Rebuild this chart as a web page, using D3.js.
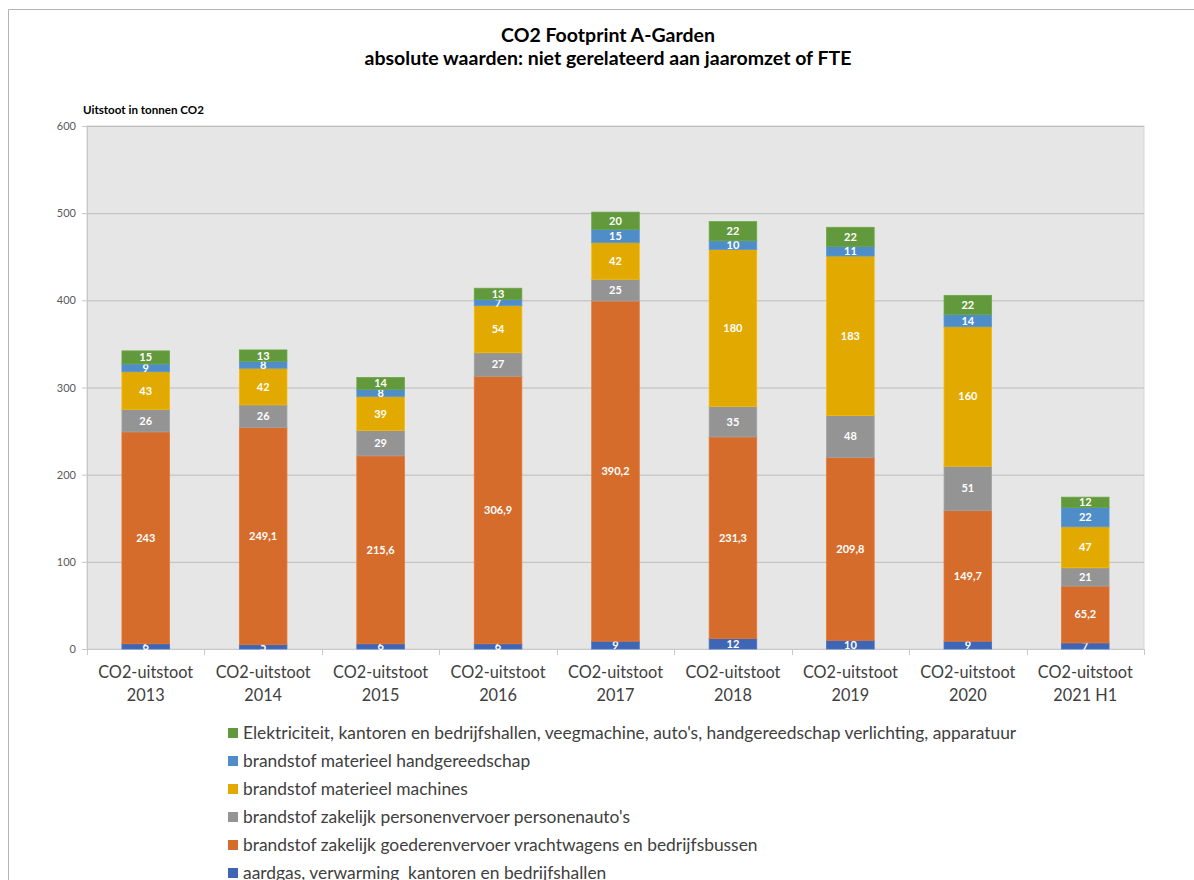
<!DOCTYPE html>
<html><head><meta charset="utf-8">
<script src="https://cdn.jsdelivr.net/npm/d3@7"></script>
<style>body{margin:0;background:#fff;} svg{display:block;font-family:Lato,"Open Sans",sans-serif;}</style>
</head><body>
<svg id="c" width="1194" height="880"></svg>
<script>
const categories = ["2013","2014","2015","2016","2017","2018","2019","2020","2021 H1"];
const seriesNames = [
  "aardgas, verwarming  kantoren en bedrijfshallen",
  "brandstof zakelijk goederenvervoer vrachtwagens en bedrijfsbussen",
  "brandstof zakelijk personenvervoer personenauto's",
  "brandstof materieel machines",
  "brandstof materieel handgereedschap",
  "Elektriciteit, kantoren en bedrijfshallen, veegmachine, auto's, handgereedschap verlichting, apparatuur"
];
const aardgas = [6,5,6,6,9,12,10,9,7];
const goederen = [243,249.1,215.6,306.9,390.2,231.3,209.8,149.7,65.2];
const personen = [26,26,29,27,25,35,48,51,21];
const machines = [43,42,39,54,42,180,183,160,47];
const handgereedschap = [9,8,8,7,15,10,11,14,22];
const elektriciteit = [15,13,14,13,20,22,22,22,12];
const yTicks = [0,100,200,300,400,500,600];
const colors = ["#3e66b5","#d56c2b","#949494","#e2a900","#4f8dc8","#63993d"];

const seriesValues = [aardgas,goederen,personen,machines,handgereedschap,elektriciteit];
const rows = categories.map((c,i)=>{const r={cat:c}; seriesValues.forEach((s,k)=>r["s"+k]=s[i]); return r;});
const keys = seriesValues.map((s,k)=>"s"+k);
const stack = d3.stack().keys(keys)(rows);

const svg = d3.select("#c");
// outer frame
svg.append("path").attr("d","M8.5,880 L8.5,9.5 L1194,9.5").attr("fill","none").attr("stroke","#b4b4b4");

const L=87, R=1144, T=126, B=649;
const x = d3.scaleBand().domain(categories).range([L,R]).paddingInner(0.595).paddingOuter(0.2975);
const y = d3.scaleLinear().domain([0,600]).range([B,T]);

svg.append("rect").attr("x",L).attr("y",T).attr("width",R-L).attr("height",B-T).attr("fill","#e6e6e6").attr("stroke","#d6d6d6");
// gridlines
svg.append("g").selectAll("line").data(yTicks.filter(t=>t>0)).join("line")
  .attr("x1",L).attr("x2",R).attr("y1",d=>y(d)+0.5).attr("y2",d=>y(d)+0.5).attr("stroke","#bdbdbd").attr("stroke-width",1);

// y axis
const ya = svg.append("g").attr("transform",`translate(${L},0)`).call(d3.axisLeft(y).tickValues(yTicks).tickSize(5).tickPadding(6));
ya.select(".domain").attr("stroke","#c8c8c8");
ya.selectAll(".tick line").attr("stroke","#c8c8c8");
ya.selectAll("text").attr("fill","#595959").style("font-size","11px").style("font-family","Lato,sans-serif");

// x axis
const xa = svg.append("g").attr("transform",`translate(0,${B})`).call(d3.axisBottom(x).tickSize(0).tickFormat(""));
xa.select(".domain").attr("stroke","#c8c8c8");
const bw = x.step();
svg.append("g").selectAll("line").data(d3.range(categories.length+1)).join("line")
  .attr("x1",i=>Math.round(L+i*bw)+0.5).attr("x2",i=>Math.round(L+i*bw)+0.5)
  .attr("y1",B).attr("y2",B+6).attr("stroke","#c8c8c8");
const catText = svg.append("g").selectAll("text").data(categories).join("text")
  .attr("x",d=>x(d)+x.bandwidth()/2).attr("text-anchor","middle")
  .attr("fill","#404040").style("font-size","16.3px");
catText.append("tspan").attr("x",d=>x(d)+x.bandwidth()/2).attr("y",678).text("CO2-uitstoot");
catText.append("tspan").attr("x",d=>x(d)+x.bandwidth()/2).attr("y",701).text(d=>d);

// bars
const fmt = v => String(v).replace(".",",");
stack.forEach((layer,k)=>{
  const g = svg.append("g");
  g.selectAll("rect").data(layer).join("rect")
    .attr("x",d=>x(d.data.cat)).attr("width",x.bandwidth())
    .attr("y",d=>y(d[1])).attr("height",d=>y(d[0])-y(d[1]))
    .attr("fill",colors[k]).attr("stroke",d3.color(colors[k]).brighter(0.25)).attr("stroke-width",0.8);
  g.selectAll("text").data(layer).join("text")
    .attr("x",d=>x(d.data.cat)+x.bandwidth()/2)
    .attr("y",d=>(y(d[0])+y(d[1]))/2+4)
    .attr("text-anchor","middle").attr("fill","#ffffff")
    .style("font-size","11px").style("font-weight","bold")
    .text(d=>fmt(seriesValues[k][categories.indexOf(d.data.cat)]));
});

// titles
svg.append("text").attr("x",608).attr("y",42).attr("text-anchor","middle").attr("fill","#000")
  .style("font-size","19.5px").style("font-weight","bold").text("CO2 Footprint A-Garden");
svg.append("text").attr("x",608).attr("y",65).attr("text-anchor","middle").attr("fill","#000")
  .style("font-size","19.5px").style("font-weight","bold").text("absolute waarden: niet gerelateerd aan jaaromzet of FTE");
svg.append("text").attr("x",83).attr("y",114).attr("fill","#000")
  .style("font-size","11.6px").style("font-weight","bold").text("Uitstoot in tonnen CO2");

// legend (reverse order)
const legendItems = seriesNames.map((n,k)=>({n,c:colors[k]})).reverse();
const lg = svg.append("g").selectAll("g").data(legendItems).join("g")
  .attr("transform",(d,i)=>`translate(228,${733+i*28})`);
lg.append("rect").attr("x",0).attr("y",-5).attr("width",10).attr("height",10).attr("fill",d=>d.c);
lg.append("text").attr("x",15).attr("y",6).attr("fill","#404040").style("font-size","17.4px")
  .style("white-space","pre").text(d=>d.n);
</script>
</body></html>
